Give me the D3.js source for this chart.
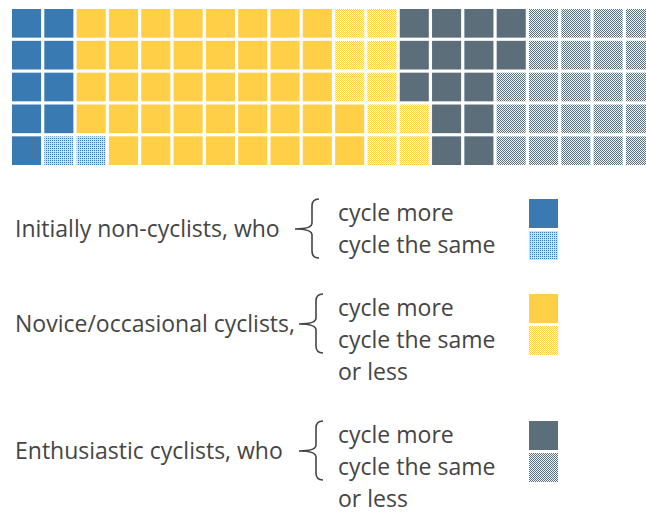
<!DOCTYPE html>
<html>
<head>
<meta charset="utf-8">
<script src="https://cdn.jsdelivr.net/npm/d3@7"></script>
<style>
  body { margin: 0; background: #fff; }
  text { font-family: "Open Sans", sans-serif; fill: #454545; }
</style>
</head>
<body>
<svg id="chart"></svg>
<script>
// categories: solid = cycle more, pattern = cycle the same (or less)
const groups = ["Initially non-cyclists, who", "Novice/occasional cyclists,", "Enthusiastic cyclists, who"];
const groupCodes = [["A", "a"], ["B", "b"], ["C", "c"]];
const groupCounts = [[9, 2], [41, 10], [15, 23]];
const answerLines = [
  ["cycle more", "cycle the same"],
  ["cycle more", "cycle the same", "or less"],
  ["cycle more", "cycle the same", "or less"]
];

// waffle layout, one string per column (top to bottom)
const columns = [
  "AAAAA", "AAAAa", "BBBBa", "BBBBB", "BBBBB", "BBBBB", "BBBBB",
  "BBBBB", "BBBBB", "BBBBB", "bbbBB", "bbbbb", "CCCbb", "CCCCC",
  "CCCCC", "CCccc", "ccccc", "ccccc", "ccccc", "ccccc"
];

const W = 646, H = 514;
const svg = d3.select("#chart").attr("width", W).attr("height", H);

const colors = { A: "#3a7ab2", B: "#ffcf48", C: "#5b6e7a" };
const patBg = { a: "#cde0f0", b: "#fff8e0", c: "#f2f4f5" };
const patFg = { a: "#3a7ab2", b: "#ffcf48", c: "#5b6e7a" };

const defs = svg.append("defs");
Object.keys(patBg).forEach(k => {
  const p = defs.append("pattern")
    .attr("id", "pat-" + k)
    .attr("patternUnits", "userSpaceOnUse")
    .attr("width", 2).attr("height", 2);
  p.append("rect").attr("width", 2).attr("height", 2).attr("fill", patBg[k]);
  if (k === "a") {
    p.append("rect").attr("width", 1).attr("height", 1).attr("fill", patFg[k]);
  } else {
    // checker
    p.append("rect").attr("width", 1).attr("height", 1).attr("fill", patFg[k]);
    p.append("rect").attr("x", 1).attr("y", 1).attr("width", 1).attr("height", 1).attr("fill", patFg[k]);
  }
});
const fillFor = c => colors[c] ? colors[c] : "url(#pat-" + c + ")";

const cells = [];
columns.forEach((col, i) => col.split("").forEach((c, j) => cells.push({ col: i, row: j, code: c })));

const x = d3.scaleBand().domain(d3.range(columns.length)).range([12, 655]).paddingInner(0.1);
const y = d3.scaleBand().domain(d3.range(5)).range([9, 165]).paddingInner(0.1);

svg.append("g").selectAll("rect")
  .data(cells)
  .enter().append("rect")
  .attr("x", d => x(d.col))
  .attr("y", d => y(d.row))
  .attr("width", x.bandwidth())
  .attr("height", y.bandwidth())
  .attr("fill", d => fillFor(d.code));

// legend
const legendTop = [199, 294, 421];
const labelY = [229, 324, 451];
const braceX = [312, 316, 316];
const lineGap = 32;
const sw = 29;

groups.forEach((g, gi) => {
  const lg = svg.append("g");
  const top = legendTop[gi];
  lg.append("text")
    .attr("x", 15).attr("y", labelY[gi])
    .attr("dy", "0.35em")
    .style("font-size", "23px")
    .text(g);

  const bx = braceX[gi], y0 = top, y1 = top + 59, ym = labelY[gi], tip = 17;
  lg.append("path")
    .attr("d", `M${bx + 7},${y0} Q${bx},${y0} ${bx},${y0 + 7} L${bx},${ym - 6} Q${bx},${ym} ${bx - tip},${ym} Q${bx},${ym} ${bx},${ym + 6} L${bx},${y1 - 7} Q${bx},${y1} ${bx + 7},${y1}`)
    .attr("fill", "none").attr("stroke", "#454545").attr("stroke-width", 1.6);

  answerLines[gi].forEach((t, li) => {
    lg.append("text")
      .attr("x", 338).attr("y", top + 22 + li * lineGap)
      .style("font-size", "23px")
      .text(t);
  });

  groupCodes[gi].forEach((c, ci) => {
    lg.append("rect")
      .attr("x", 529).attr("y", top + ci * (sw + 3))
      .attr("width", sw).attr("height", sw)
      .attr("fill", fillFor(c));
  });
});
</script>
</body>
</html>
